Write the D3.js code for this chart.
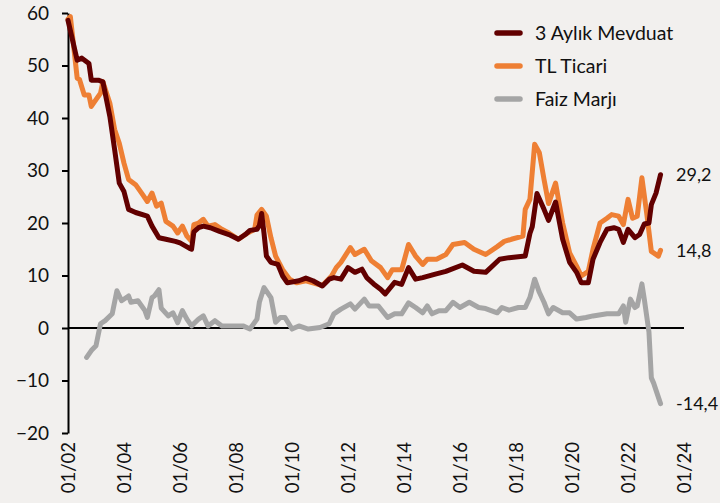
<!DOCTYPE html>
<html>
<head>
<meta charset="utf-8">
<script src="https://cdnjs.cloudflare.com/ajax/libs/d3/7.8.5/d3.min.js"></script>
<style>
  body { margin: 0; background: #f2f0ee; }
  .canvas { width: 720px; height: 503px; }
  text { font-family: Lato, "Open Sans", sans-serif; fill: #111; }
</style>
</head>
<body>
<div class="canvas"></div>
<script>
// 3 Aylık Mevduat
const mevduatDates = ["2002-01","2002-05","2002-07","2002-10","2002-11","2003-02","2003-04","2003-07","2003-09","2003-11",
  "2004-01","2004-03","2004-06","2004-11","2005-01","2005-04","2005-07","2005-11","2006-01","2006-05","2006-06","2006-07",
  "2006-09","2006-11","2007-02","2007-06","2007-10","2008-02","2008-05","2008-07","2008-10","2008-11","2008-12","2009-01",
  "2009-02","2009-04","2009-07","2009-09","2009-11","2010-04","2010-07","2010-10","2011-02","2011-05","2011-07","2011-10",
  "2012-01","2012-04","2012-07","2012-09","2012-12","2013-03","2013-05","2013-09","2013-12","2014-03","2014-06","2014-09",
  "2015-02","2015-07","2016-02","2016-07","2016-12","2017-06","2017-10","2018-05","2018-07","2018-08","2018-10","2019-01",
  "2019-03","2019-06","2019-09","2019-12","2020-03","2020-05","2020-08","2020-10","2021-01","2021-04","2021-07","2021-09",
  "2021-11","2022-01","2022-04","2022-06","2022-08","2022-10","2022-11","2023-01","2023-03"];
const mevduat = [58.6,51,51.4,50.4,47.2,47.2,46.9,40.3,34,27.6,
  26,22.6,22,21.3,19.4,17.2,16.9,16.5,16.2,15.2,15,18.3,
  19.1,19.4,19.1,18.4,17.8,16.9,17.8,18.6,18.8,19.5,21.8,18,
  13.7,12.5,12.1,9.9,8.6,9,9.5,9,8,9.3,9.6,9.3,
  11.5,10.6,11.2,9.6,8.4,7.4,6.5,8.7,8.3,11.5,9.3,9.6,
  10.2,10.8,12,10.8,10.6,13.1,13.4,13.7,18,19.3,25.6,22.6,
  20.5,24,16.9,12.5,10.6,8.6,8.6,13.1,16.3,18.8,19.1,18.8,
  16.3,18.8,17.2,17.8,19.8,20,23.5,25.7,29.2];

// TL Ticari
const ticariDates = ["2002-01","2002-02","2002-05","2002-06","2002-08","2002-10","2002-11","2003-01","2003-03","2003-04",
  "2003-07","2003-09","2003-11","2004-01","2004-03","2004-06","2004-09","2004-11","2005-01","2005-03","2005-05","2005-07",
  "2005-10","2005-12","2006-02","2006-04","2006-06","2006-07","2006-09","2006-11","2007-01","2007-04","2007-07","2007-10",
  "2008-02","2008-06","2008-09","2008-10","2008-12","2009-02","2009-04","2009-06","2009-09","2009-12","2010-03","2010-07",
  "2010-10","2011-02","2011-06","2011-08","2011-10","2012-02","2012-04","2012-08","2012-11","2013-03","2013-06","2013-08",
  "2013-12","2014-03","2014-06","2014-09","2014-11","2015-03","2015-07","2015-10","2016-03","2016-07","2016-12","2017-05",
  "2017-08","2017-11","2018-04","2018-05","2018-07","2018-09","2018-11","2019-01","2019-03","2019-06","2019-09","2019-12",
  "2020-03","2020-05","2020-08","2020-10","2021-01","2021-04","2021-06","2021-09","2021-11","2022-01","2022-03","2022-05",
  "2022-07","2022-09","2022-11","2023-02","2023-03"];
const ticari = [58.8,59.3,47.6,47.3,44.4,44.4,42.2,43.5,44.7,46.9,
  42.8,37.8,35.2,31.4,28.3,27.3,25.4,24.1,25.7,23.2,23.8,20.3,
  19.4,18.1,19.4,17.5,16.5,19.7,20,20.7,19.4,19.7,18.8,18.1,
  16.9,18.1,18.8,21.5,22.6,21.3,17.2,13.7,11.1,9.3,8.6,9,
  8.6,8.1,9.9,11.5,12.5,15.3,14,15,12.8,11.5,9.6,11.1,
  11.1,15.9,13.7,12.1,13.1,13.1,14,15.9,16.3,15,14,15.5,
  16.5,16.9,17.5,22.6,24.5,35,33.4,28.3,23.7,27.6,20,14.3,
  11.8,9.9,10.8,15,20,20.9,21.6,21.3,19.7,24.5,20.9,21.3,
  28.6,21.9,14.6,13.7,14.8];

// Faiz Marjı
const marjDates = ["2002-09","2002-11","2003-01","2003-03","2003-05","2003-08","2003-10","2003-12","2004-03","2004-04",
  "2004-07","2004-10","2004-11","2005-01","2005-02","2005-04","2005-05","2005-08","2005-10","2005-12","2006-02","2006-04",
  "2006-06","2006-09","2006-11","2007-01","2007-04","2007-07","2007-11","2008-04","2008-07","2008-10","2008-11","2009-01",
  "2009-04","2009-06","2009-08","2009-10","2010-01","2010-04","2010-08","2011-01","2011-05","2011-07","2011-10","2012-02",
  "2012-04","2012-08","2012-10","2013-02","2013-06","2013-09","2013-12","2014-03","2014-06","2014-09","2014-11","2015-01",
  "2015-04","2015-07","2015-10","2016-01","2016-05","2016-09","2016-12","2017-05","2017-07","2017-10","2018-02","2018-05",
  "2018-07","2018-09","2018-11","2019-01","2019-03","2019-05","2019-09","2019-12","2020-03","2020-07","2020-10","2021-04",
  "2021-09","2021-11","2021-12","2022-02","2022-04","2022-05","2022-07","2022-08","2022-10","2022-11","2022-12","2023-03"];
const marj = [-5.6,-4.3,-3.4,0.8,1.4,2.7,7.1,5.2,6.1,4.9,
  5.2,3.3,2,5.8,6.1,7.3,3.8,2.3,2.9,1,3.3,1.7,
  0.4,1.7,2.3,0.4,1.4,0.4,0.4,0.4,-0.2,1.7,4.9,7.7,
  5.8,1.1,2,2,-0.2,0.4,-0.2,0.1,0.8,2.7,3.6,4.6,
  3.6,5.5,4.2,4.2,2,2.7,2.7,4.8,3.9,2.9,4.2,2.7,
  3.3,3.3,4.9,3.9,4.9,3.9,3.7,2.9,3.9,3.4,3.9,3.9,
  5.8,9.3,6.8,4.9,2.7,3.9,2.9,2.9,1.7,2,2.3,2.7,
  2.7,4.2,1.1,5.5,3.9,4.2,8.4,5.5,-0.8,-9.5,-10.5,-14.4];

const yTicks = [-20, -10, 0, 10, 20, 30, 40, 50, 60];
const seriesNames = ["3 Aylık Mevduat", "TL Ticari", "Faiz Marjı"];
const seriesColors = ["#620000", "#ee7f34", "#a5a5a5"];
const endLabels = ["29,2", "14,8", "-14,4"];

const svg = d3
  .select(".canvas")
  .append("svg")
  .attr("width", 720)
  .attr("height", 503);

const parse = d3.timeParse("%Y-%m");

const x = d3
  .scaleTime()
  .domain([new Date(2002, 0, 1), new Date(2024, 0, 1)])
  .range([68, 684]);
const y = d3.scaleLinear().domain([-20, 60]).range([433, 13]);

// y axis
const yAxisGroup = svg.append("g").attr("transform", "translate(68,0)");
yAxisGroup.call(d3.axisLeft(y).tickValues(yTicks).tickSize(6).tickPadding(13).tickSizeOuter(0));
yAxisGroup.select(".domain").attr("stroke", "#000").attr("stroke-width", 2);
yAxisGroup.selectAll(".tick line").attr("stroke", "#000").attr("stroke-width", 2);
yAxisGroup.selectAll("text").attr("font-size", 19).attr("font-family", "Lato").attr("fill", "#111");

// x axis labels, rotated
const xAxisGroup = svg.append("g").attr("transform", "translate(0,433)");
xAxisGroup.call(
  d3.axisBottom(x)
    .ticks(d3.timeYear.every(2))
    .tickFormat(d3.timeFormat("%m/%y"))
    .tickSize(0)
);
xAxisGroup.select(".domain").remove();
xAxisGroup
  .selectAll("text")
  .attr("transform", "rotate(-90)")
  .attr("x", -9)
  .attr("y", 0)
  .attr("dy", "0.36em")
  .attr("text-anchor", "end")
  .attr("font-size", 18.5)
  .attr("font-family", "Lato")
  .attr("fill", "#111");

// zero line
svg
  .append("line")
  .attr("x1", x(new Date(2002, 0, 1)))
  .attr("x2", x(new Date(2024, 0, 1)))
  .attr("y1", y(0))
  .attr("y2", y(0))
  .attr("stroke", "#000")
  .attr("stroke-width", 2);

const line = d3
  .line()
  .x((d) => x(d.date))
  .y((d) => y(d.value));

const series = [
  mevduatDates.map((d, i) => ({ date: parse(d), value: mevduat[i] })),
  ticariDates.map((d, i) => ({ date: parse(d), value: ticari[i] })),
  marjDates.map((d, i) => ({ date: parse(d), value: marj[i] })),
];

// draw gray first so the others sit on top
[2, 1, 0].forEach((i) => {
  svg
    .append("path")
    .datum(series[i])
    .attr("fill", "none")
    .attr("stroke", seriesColors[i])
    .attr("stroke-width", 5)
    .attr("stroke-linejoin", "round")
    .attr("stroke-linecap", "round")
    .attr("d", line);
});

// end labels
series.forEach((s, i) => {
  const last = s[s.length - 1];
  svg
    .append("text")
    .text(endLabels[i])
    .attr("x", 676)
    .attr("y", y(last.value))
    .attr("dy", "0.36em")
    .attr("font-size", 18);
});

// legend
const legend = svg
  .selectAll(".legend")
  .data(seriesNames)
  .enter()
  .append("g")
  .attr("class", "legend")
  .attr("transform", (d, i) => `translate(497,${33 + i * 33})`);

legend
  .append("line")
  .attr("x1", 0)
  .attr("x2", 23)
  .attr("stroke", (d, i) => seriesColors[i])
  .attr("stroke-width", 5.5)
  .attr("stroke-linecap", "round");

legend
  .append("text")
  .text((d) => d)
  .attr("x", 38)
  .attr("dy", "0.36em")
  .attr("font-size", 19.5);
</script>
</body>
</html>
